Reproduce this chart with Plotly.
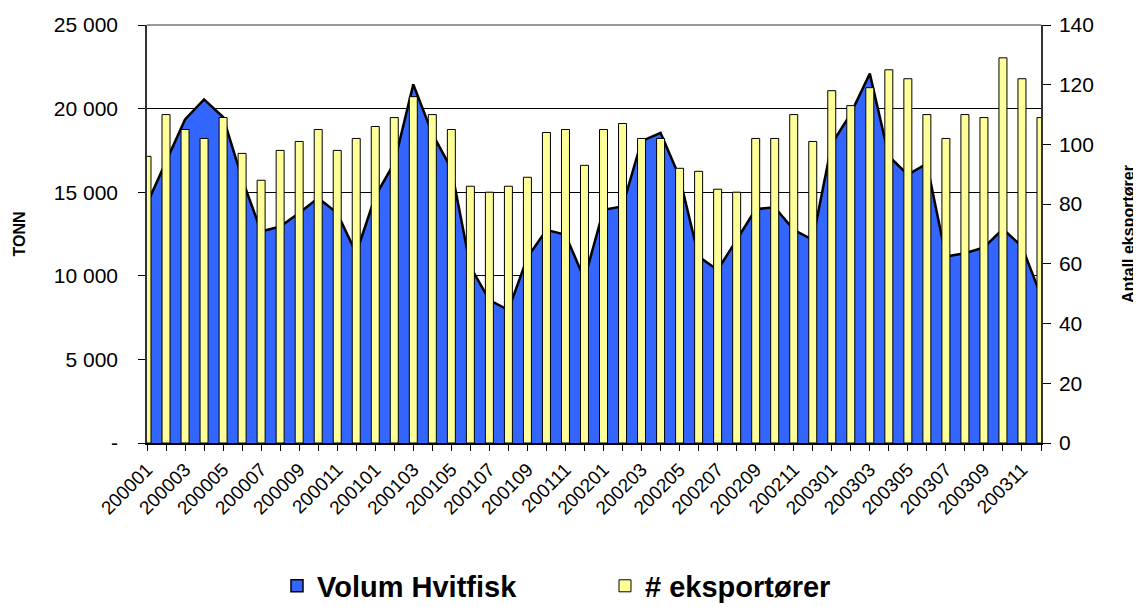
import plotly.graph_objects as go

# months 200001 .. 200312
maaneder = [f"{aar}{m:02d}" for aar in (2000, 2001, 2002, 2003) for m in range(1, 13)]

volum_hvitfisk = [
    14300, 16800, 19350, 20550, 19500, 15800, 12650, 12950, 13750, 14650, 13750, 11350,
    14750, 16750, 21450, 18500, 16400, 10550, 8550, 7950, 11100, 12750, 12450, 9800,
    13950, 14150, 18050, 18550, 15900, 11150, 10350, 12150, 13980, 14100, 12750, 12150,
    17900, 19700, 22100, 17150, 16050, 16700, 11150, 11350, 11700, 12800, 11750, 8800,
]

antall_eksportorer = [
    96, 110, 105, 102, 109, 97, 88, 98, 101, 105, 98, 102,
    106, 109, 116, 110, 105, 86, 84, 86, 89, 104, 105, 93,
    105, 107, 102, 102, 92, 91, 85, 84, 102, 102, 110, 101,
    118, 113, 119, 125, 122, 110, 102, 110, 109, 129, 122, 109,
]

venstre_ticks = [0, 5000, 10000, 15000, 20000, 25000]
venstre_tekst = ["-", "5 000", "10 000", "15 000", "20 000", "25 000"]
hoyre_ticks = [0, 20, 40, 60, 80, 100, 120, 140]

FONT = "Arial, Liberation Sans, sans-serif"
BLAA = "#3366FF"
GUL = "#FFFF99"

idx = list(range(len(maaneder)))
x_tekst = [m if i % 2 == 0 else "" for i, m in enumerate(maaneder)]

fig = go.Figure()

fig.add_trace(go.Scatter(
    x=idx, y=volum_hvitfisk,
    mode="lines",
    fill="tozeroy",
    fillcolor=BLAA,
    line=dict(color="black", width=2.5),
    showlegend=False,
    yaxis="y",
))

# legend entry only (square symbol like the reference)
fig.add_trace(go.Bar(
    x=[None], y=[None],
    name="<b>Volum Hvitfisk</b>",
    marker=dict(color=BLAA, line=dict(color="black", width=1.5)),
    yaxis="y",
))

fig.add_trace(go.Bar(
    x=idx, y=antall_eksportorer,
    name="<b># eksportører</b>",
    width=0.42,
    marker=dict(color=GUL, line=dict(color="black", width=1)),
    yaxis="y2",
))

# the page body adds an 8px offset, margins are reduced by that amount;
# the figure is a bit taller than the window so the legend does not push the plot up
fig.update_layout(
    width=1141, height=620,
    margin=dict(l=139, r=108, t=17, b=185),
    plot_bgcolor="white",
    paper_bgcolor="white",
    font=dict(family=FONT, size=21, color="black"),
    xaxis=dict(
        range=[0, 47],
        tickmode="array",
        tickvals=idx,
        ticktext=x_tekst,
        tickangle=-45,
        ticks="outside",
        ticklen=6,
        tickcolor="black",
        showline=True,
        linecolor="black",
        linewidth=2,
        showgrid=False,
        zeroline=False,
        tickfont=dict(size=19),
        automargin=False,
    ),
    yaxis=dict(
        range=[0, 25000],
        tickmode="array",
        tickvals=venstre_ticks,
        ticktext=venstre_tekst,
        ticks="outside",
        ticklen=7,
        ticklabelstandoff=16,
        tickcolor="black",
        showline=True,
        linecolor="#333333",
        linewidth=1.5,
        showgrid=True,
        gridcolor="black",
        gridwidth=1,
        zeroline=False,
        automargin=False,
        title=dict(text="<b>TONN</b>", font=dict(size=16), standoff=24),
    ),
    yaxis2=dict(
        range=[0, 140],
        overlaying="y",
        side="right",
        tickmode="array",
        tickvals=hoyre_ticks,
        ticks="outside",
        ticklen=8,
        ticklabelstandoff=4,
        tickcolor="black",
        showline=True,
        linecolor="#333333",
        linewidth=1.5,
        showgrid=False,
        zeroline=False,
        automargin=False,
        title=dict(text="<b>Antall eksportører</b>", font=dict(size=16), standoff=30),
    ),
    barmode="overlay",
    legend=dict(
        orientation="h",
        x=0.1454, xanchor="left",
        y=-0.342, yanchor="middle",
        font=dict(size=29, family=FONT),
        entrywidth=283,
        entrywidthmode="pixels",
        itemwidth=30,
        traceorder="normal",
    ),
    showlegend=True,
)

# grey top border of the plot area
fig.add_shape(type="line", xref="paper", yref="paper", x0=0, x1=1, y0=1, y1=1,
              line=dict(color="#999999", width=2), layer="above")

fig.write_html("out.html")
